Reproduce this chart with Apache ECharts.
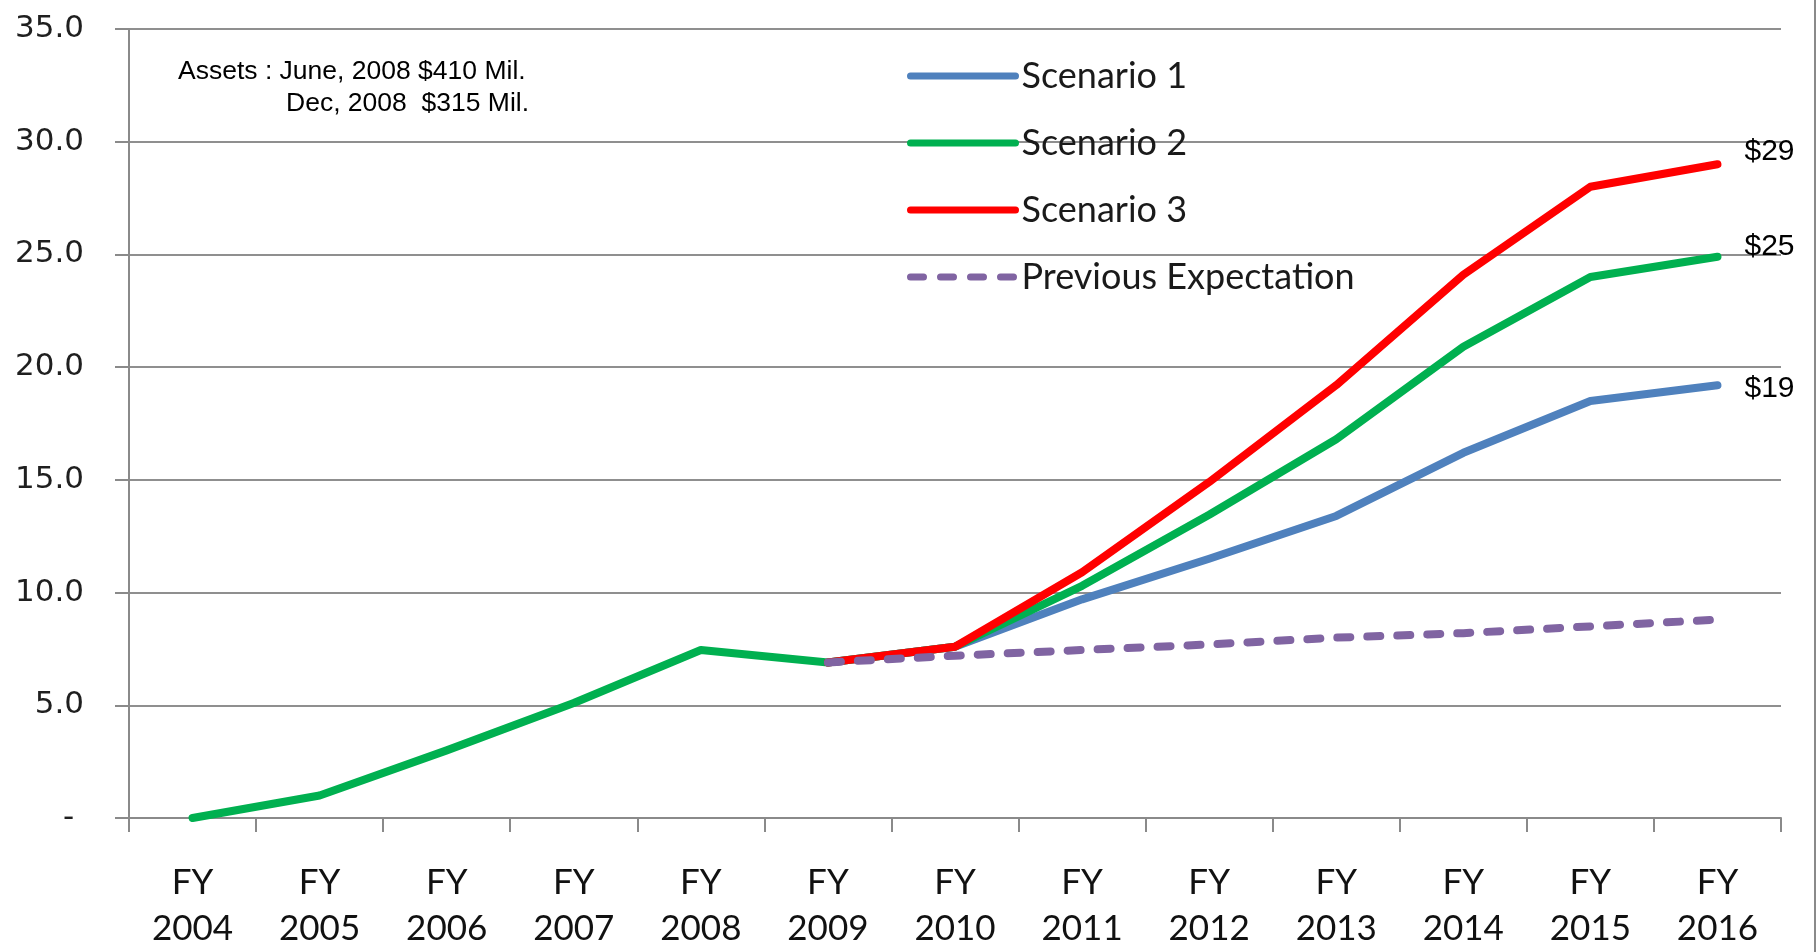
<!DOCTYPE html>
<html>
<head>
<meta charset="utf-8">
<script src="https://cdn.jsdelivr.net/npm/echarts@6/dist/echarts.min.js"></script>
<style>
  html, body { margin: 0; padding: 0; background: #fff; }
  #chart { width: 1817px; height: 952px; }
</style>
</head>
<body>
<div id="chart"></div>
<script>
const years = ['2004', '2005', '2006', '2007', '2008', '2009', '2010', '2011', '2012', '2013', '2014', '2015', '2016'];
const scenario1 = [null, null, null, null, null, 6.9, 7.6, 9.7, 11.5, 13.4, 16.2, 18.5, 19.2];
const scenario2 = [0, 1.0, 3.0, 5.1, 7.45, 6.9, 7.6, 10.3, 13.45, 16.8, 20.9, 24.0, 24.9];
const scenario3 = [null, null, null, null, null, 6.9, 7.6, 10.9, 14.9, 19.2, 24.1, 28.0, 29.0];
const previous = [null, null, null, null, null, 6.9, 7.2, 7.45, 7.7, 8.0, 8.2, 8.5, 8.8];

const noteLines = ['Assets : June, 2008 $410 Mil.', 'Dec, 2008  $315 Mil.'];

const chart = echarts.init(document.getElementById('chart'), null, { renderer: 'canvas' });

function lineSeries(name, data, color, dash, labelDy) {
  return {
    name: name,
    type: 'line',
    data: data,
    symbol: 'none',
    connectNulls: false,
    lineStyle: { color: color, width: 8, type: dash || 'solid', cap: 'round', join: 'round' },
    itemStyle: { color: color },
    endLabel: labelDy === undefined ? { show: false } : {
      show: true,
      formatter: (p) => '$' + Math.round(p.value),
      fontFamily: 'Liberation Sans, Arial',
      fontSize: 30,
      color: '#000',
      distance: 27,
      offset: [0, labelDy]
    }
  };
}

const option = {
  backgroundColor: '#fff',
  animation: false,
  grid: { left: 129, right: 36, top: 29, bottom: 127 },
  legend: {
    orient: 'vertical',
    left: 902,
    top: 53,
    itemWidth: 105,
    itemHeight: 14,
    itemGap: 31,
    itemStyle: { opacity: 0, borderWidth: 0 },
    lineStyle: { width: 7, cap: 'round' },
    data: ['Scenario 1', 'Scenario 2', 'Scenario 3', 'Previous Expectation'],
    textStyle: { fontFamily: 'Lato', fontSize: 36, color: '#1a1a1a', padding: [0, 0, 0, 1] }
  },
  xAxis: {
    type: 'category',
    data: years,
    boundaryGap: true,
    axisLine: { lineStyle: { color: '#8a8a8a', width: 2 } },
    axisTick: { show: true, length: 14, lineStyle: { color: '#8a8a8a', width: 2 } },
    axisLabel: {
      formatter: (v) => 'FY\n' + v,
      fontFamily: 'Lato',
      fontSize: 35,
      lineHeight: 46,
      color: '#111',
      margin: 42,
      interval: 0
    }
  },
  yAxis: {
    type: 'value',
    min: 0,
    max: 35,
    interval: 5,
    axisLine: { show: true, lineStyle: { color: '#8a8a8a', width: 2 } },
    axisTick: { show: true, length: 14, lineStyle: { color: '#8a8a8a', width: 2 } },
    splitLine: { lineStyle: { color: '#8f8f8f', width: 2 } },
    axisLabel: {
      formatter: (v) => v === 0 ? '- ' : v.toFixed(1),
      fontFamily: 'DejaVu Sans',
      fontSize: 31,
      color: '#1f1f1f',
      margin: 45
    }
  },
  graphic: [
    {
      type: 'text', left: 178, top: 58,
      style: { text: noteLines[0], font: '26.5px "Liberation Sans", Arial', fill: '#000' }
    },
    {
      type: 'text', left: 286, top: 90,
      style: { text: noteLines[1], font: '26.5px "Liberation Sans", Arial', fill: '#000' }
    },
    {
      type: 'line', shape: { x1: 1815, y1: 0, x2: 1815, y2: 952 },
      style: { stroke: '#8a8a8a', lineWidth: 2 }
    }
  ],
  series: [
    lineSeries('Scenario 1', scenario1, '#4F81BD', null, 4),
    lineSeries('Scenario 2', scenario2, '#00B050', null, -10),
    lineSeries('Scenario 3', scenario3, '#FF0000', null, -13),
    lineSeries('Previous Expectation', previous, '#8064A2', [13, 17])
  ]
};
chart.setOption(option);
</script>
</body>
</html>
